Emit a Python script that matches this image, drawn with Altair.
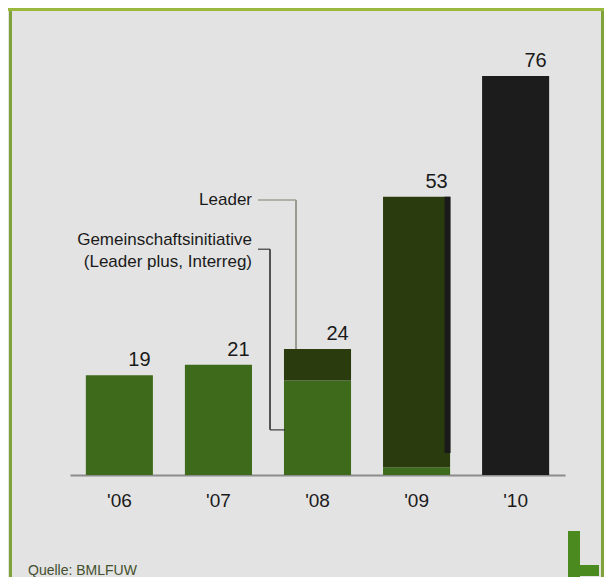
import altair as alt
import pandas as pd

years = ["'06", "'07", "'08", "'09", "'10"]
gemeinschaft = [19, 21, 18, 1.5, 0]
leader = [0, 0, 6, 51.5, 0]
other = [0, 0, 0, 0, 76]
totals = [19, 21, 24, 53, 76]

series_names = ["Gemeinschaftsinitiative", "Leader", "Sonstige"]
series_colors = ["#3e6a1b", "#2a3b0e", "#1c1c1c"]

# build stacked table
rows = []
for i, yr in enumerate(years):
    base = 0
    for name, vals in zip(series_names, [gemeinschaft, leader, other]):
        v = vals[i]
        if v > 0:
            rows.append({"yr": yr, "series": name, "y0": base, "y1": base + v})
            base += v
bars_df = pd.DataFrame(rows)
labels_df = pd.DataFrame({"yr": years, "total": totals})

# annotation anchors (value units)
leader_text_y = 52.4
gem_text_y = [44.8, 40.6]
gem_text = ["Gemeinschaftsinitiative", "(Leader plus, Interreg)"]
gem_line_top = 43.0
gem_line_bottom = 8.6

FONT = "Liberation Sans"
W, H = 495, 420
PAD = {"left": 62, "top": 47, "right": 39, "bottom": 102}

x_enc = alt.X("yr:N", sort=years,
              scale=alt.Scale(paddingInner=0.323, paddingOuter=0.16),
              axis=alt.Axis(title=None, labelAngle=0, labelFontSize=19,
                            labelColor="#1a1a1a", labelFont=FONT, ticks=False,
                            domainColor="#8c8c8c", domainWidth=2, labelPadding=16))
y_scale = alt.Scale(domain=[0, 80])

bars = alt.Chart(bars_df).mark_bar().encode(
    x=x_enc,
    y=alt.Y("y0:Q", scale=y_scale, axis=None),
    y2="y1:Q",
    color=alt.Color("series:N", scale=alt.Scale(domain=series_names, range=series_colors), legend=None),
)

values = alt.Chart(labels_df).mark_text(
    baseline="bottom", align="center", dy=-5, xOffset=20, fontSize=20, font=FONT, color="#1a1a1a"
).encode(
    x=alt.X("yr:N", sort=years),
    y=alt.Y("total:Q", scale=y_scale),
    text="total:Q",
)

# '09 dark stripe on right side
stripe_df = pd.DataFrame({"yr": ["'09"], "a": [4.2], "b": [53]})
stripe = alt.Chart(stripe_df).mark_rule(color="#1a1a1a", strokeWidth=6, xOffset=31).encode(
    x=alt.X("yr:N", sort=years), y=alt.Y("a:Q", scale=y_scale), y2="b:Q")

# Leader annotation
lead_df = pd.DataFrame({"yr": ["'08"], "y": [leader_text_y], "top": [totals[2]], "t": ["Leader"]})
lead_text = alt.Chart(lead_df).mark_text(
    align="right", baseline="middle", xOffset=-65.5, fontSize=17, font=FONT, color="#1a1a1a"
).encode(x=alt.X("yr:N", sort=years), y=alt.Y("y:Q", scale=y_scale), text="t:N")
lead_h = alt.Chart(lead_df).mark_tick(orient="horizontal", size=38, thickness=2, xOffset=-40.5,
                                      color="#9a9a90").encode(
    x=alt.X("yr:N", sort=years), y=alt.Y("y:Q", scale=y_scale))
lead_v = alt.Chart(lead_df).mark_rule(color="#9a9a90", strokeWidth=2, xOffset=-21.5).encode(
    x=alt.X("yr:N", sort=years), y=alt.Y("y:Q", scale=y_scale), y2="top:Q")

# Gemeinschaftsinitiative annotation
gem_df = pd.DataFrame({"yr": ["'08", "'08"], "y": gem_text_y, "t": gem_text})
gem_text_l = alt.Chart(gem_df).mark_text(
    align="right", baseline="middle", xOffset=-65.5, fontSize=17, font=FONT, color="#1a1a1a"
).encode(x=alt.X("yr:N", sort=years), y=alt.Y("y:Q", scale=y_scale), text="t:N")
gl_df = pd.DataFrame({"yr": ["'08"], "top": [gem_line_top], "bot": [gem_line_bottom]})
gem_h1 = alt.Chart(gl_df).mark_tick(orient="horizontal", size=12, thickness=1.5, xOffset=-53.5,
                                    color="#222222").encode(
    x=alt.X("yr:N", sort=years), y=alt.Y("top:Q", scale=y_scale))
gem_v = alt.Chart(gl_df).mark_rule(color="#222222", strokeWidth=1.5, xOffset=-47.5).encode(
    x=alt.X("yr:N", sort=years), y=alt.Y("top:Q", scale=y_scale), y2="bot:Q")
gem_h2 = alt.Chart(gl_df).mark_tick(orient="horizontal", size=15, thickness=1.5, xOffset=-40,
                                    color="#222222").encode(
    x=alt.X("yr:N", sort=years), y=alt.Y("bot:Q", scale=y_scale))

# frame decorations
frame_left = alt.Chart(gl_df).mark_rule(color="#7fa23a", strokeWidth=3).encode(
    x=alt.value(-59.5), y=alt.value(-47), y2=alt.value(522))
frame_right = alt.Chart(gl_df).mark_rule(color="#7fa23a", strokeWidth=3).encode(
    x=alt.value(532.5), y=alt.value(-47), y2=alt.value(522))
frame_top = alt.Chart(gl_df).mark_rule(color="#9ab83c", strokeWidth=3).encode(
    x=alt.value(-62), x2=alt.value(534), y=alt.value(-45.5))

source = alt.Chart(pd.DataFrame({"t": ["Quelle: BMLFUW"]})).mark_text(
    align="left", baseline="alphabetic", fontSize=14, font=FONT, color="#44502e"
).encode(x=alt.value(-42), y=alt.value(520), text="t:N")

# "L" logo drawn as two thick strokes
logo_v = alt.Chart(gl_df).mark_rule(color="#4a8a1e", strokeWidth=12).encode(
    x=alt.value(504), y=alt.value(476), y2=alt.value(522))
logo_h = alt.Chart(gl_df).mark_rule(color="#4a8a1e", strokeWidth=11).encode(
    x=alt.value(498), x2=alt.value(529), y=alt.value(515.5))

chart = alt.layer(
    frame_left, frame_right, frame_top,
    bars, stripe, values,
    lead_h, lead_v, lead_text,
    gem_h1, gem_v, gem_h2, gem_text_l,
    source, logo_v, logo_h,
).properties(
    width=W, height=H,
    autosize=alt.AutoSizeParams(type="none"),
    padding=PAD,
    background="#e3e3e3",
).configure_view(stroke=None)

chart.save("out.html", embed_options={"renderer": "svg", "actions": False})
